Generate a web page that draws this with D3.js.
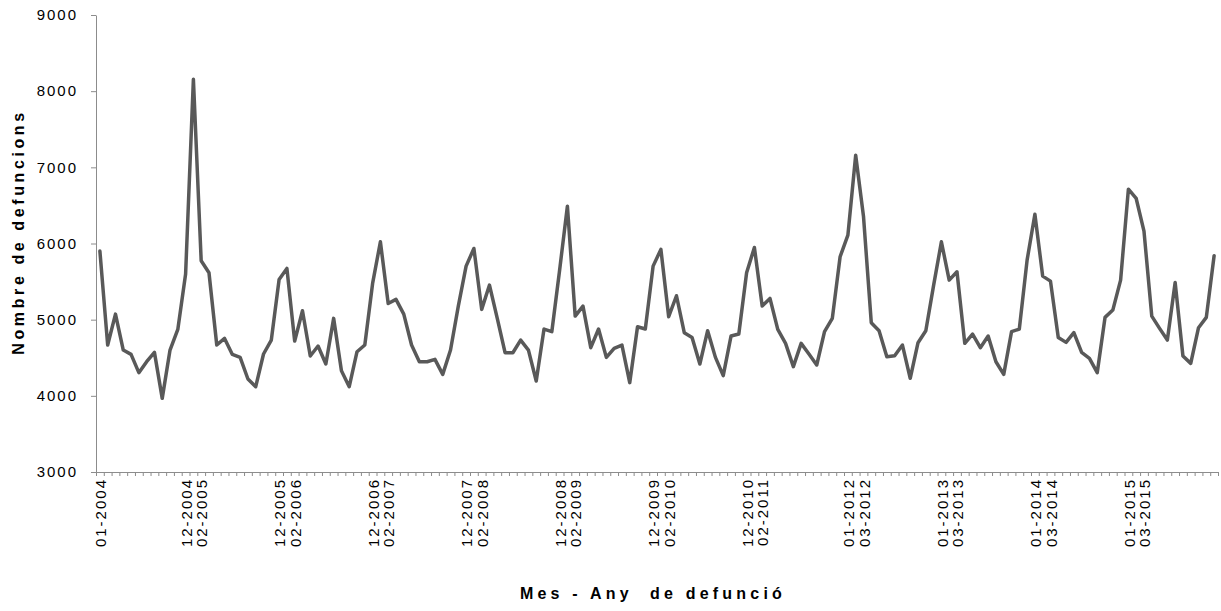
<!DOCTYPE html>
<html>
<head>
<meta charset="utf-8">
<script src="https://cdn.jsdelivr.net/npm/d3@7"></script>
<style>
  body { margin: 0; background: #fff; }
  svg { font-family: "Liberation Sans", Arial, sans-serif; }
</style>
</head>
<body>
<div id="grafic"></div>
<script>
// mesos i anys
var anys = [2004, 2005, 2006, 2007, 2008, 2009, 2010, 2011, 2012, 2013, 2014, 2015];
var mesos = ["01", "02", "03", "04", "05", "06", "07", "08", "09", "10", "11", "12"];
var categories = d3.cross(anys, mesos).map(function (d) { return d[1] + "-" + d[0]; });

// defuncions per mes (llegit del gràfic)
var defuncions = [
	5900, 4667, 5073, 4601, 4544, 4304, 4448, 4571, 3967, 4601, 4872, 5598,
	8156, 5773, 5616, 4667, 4754, 4544, 4505, 4221, 4120, 4549, 4732, 5528,
	5673, 4719, 5117, 4523, 4654, 4418, 5017, 4330, 4120, 4579, 4667, 5476,
	6022, 5213, 5266, 5073, 4667, 4448, 4448, 4479, 4282, 4601, 5178, 5703,
	5935, 5135, 5454, 5017, 4566, 4566, 4732, 4601, 4195, 4877, 4842, 5650,
	6490, 5047, 5178, 4632, 4877, 4505, 4623, 4667, 4173, 4907, 4877, 5703,
	5922, 5039, 5314, 4829, 4767, 4418, 4855, 4505, 4265, 4785, 4811, 5616,
	5948, 5178, 5279, 4872, 4689, 4383, 4689, 4549, 4405, 4842, 5017, 5826,
	6110, 7159, 6359, 4960, 4855, 4514, 4527, 4667, 4230, 4697, 4855, 5450,
	6022, 5519, 5629, 4689, 4811, 4632, 4785, 4448, 4282, 4842, 4877, 5782,
	6385, 5572, 5506, 4767, 4702, 4829, 4571, 4492, 4304, 5030, 5126, 5519,
	6713, 6591, 6162, 5047, 4886, 4732, 5489, 4523, 4426, 4894, 5030, 5839
];

var etiquetesX = [
	"01-2004", "12-2004", "02-2005", "12-2005", "02-2006", "12-2006", "02-2007",
	"12-2007", "02-2008", "12-2008", "02-2009", "12-2009", "02-2010", "12-2010",
	"02-2011", "01-2012", "03-2012", "01-2013", "03-2013", "01-2014", "03-2014",
	"01-2015", "03-2015"
];
var ticksY = [3000, 4000, 5000, 6000, 7000, 8000, 9000];

var w = 1221;
var h = 611;
var esq = 96, dre = 1218, dalt = 15, baix = 472;
var colorEix = "#8c8c8c";

var svg = d3.select("#grafic")
	.append("svg")
	.attr("width", w)
	.attr("height", h);

var x = d3.scaleBand()
	.domain(categories)
	.range([esq, dre])
	.padding(0);

// posicions de les marques entre categories
var xMarques = d3.scaleLinear()
	.domain([0, categories.length])
	.range([esq, dre]);

var y = d3.scaleLinear()
	.domain([3000, 9000])
	.range([baix, dalt]);

// eix Y
var eixY = svg.append("g")
	.attr("transform", "translate(" + esq + ",0)")
	.call(d3.axisLeft(y).tickValues(ticksY).tickFormat(d3.format("d")).tickSize(5).tickSizeOuter(0).tickPadding(13));
eixY.select(".domain").attr("stroke", colorEix);
eixY.selectAll(".tick line").attr("stroke", colorEix);
eixY.selectAll(".tick text")
	.attr("font-size", 15)
	.attr("letter-spacing", 2)
	.attr("fill", "#000")
	.attr("font-family", "Liberation Sans, Arial, sans-serif");

// eix X
var eixX = svg.append("g")
	.attr("transform", "translate(0," + baix + ")")
	.call(d3.axisBottom(xMarques).tickValues(d3.range(categories.length + 1)).tickSize(4).tickSizeOuter(0).tickFormat(""));
eixX.select(".domain").attr("stroke", colorEix);
eixX.selectAll(".tick line").attr("stroke", colorEix);

svg.append("g")
	.selectAll("text")
	.data(etiquetesX)
	.enter()
	.append("text")
	.text(function (d) { return d; })
	.attr("transform", function (d) {
		return "translate(" + (x(d) + x.bandwidth() / 2 + 1) + "," + (baix + 6) + ") rotate(-90)";
	})
	.attr("text-anchor", "end")
	.attr("dy", "0.35em")
	.attr("font-size", 15)
	.attr("letter-spacing", 2)
	.attr("fill", "#000");

// línia
var linia = d3.line()
	.x(function (d, i) { return x(categories[i]) + x.bandwidth() / 2; })
	.y(function (d) { return y(d); });

svg.append("path")
	.datum(defuncions)
	.attr("d", linia)
	.attr("fill", "none")
	.attr("stroke", "#595959")
	.attr("stroke-width", 3.5)
	.attr("stroke-linejoin", "round")
	.attr("stroke-linecap", "round");

// títols
svg.append("text")
	.text("Nombre de defuncions")
	.attr("transform", "translate(24,232) rotate(-90)")
	.attr("text-anchor", "middle")
	.attr("font-size", 16)
	.attr("font-weight", "bold")
	.attr("letter-spacing", 3.6)
	.attr("fill", "#000");

svg.append("text")
	.text("Mes - Any  de defunció")
	.attr("x", 653)
	.attr("y", 599)
	.attr("text-anchor", "middle")
	.attr("font-size", 16)
	.attr("font-weight", "bold")
	.attr("letter-spacing", 4.2)
	.style("white-space", "pre")
	.attr("fill", "#000");
</script>
</body>
</html>
